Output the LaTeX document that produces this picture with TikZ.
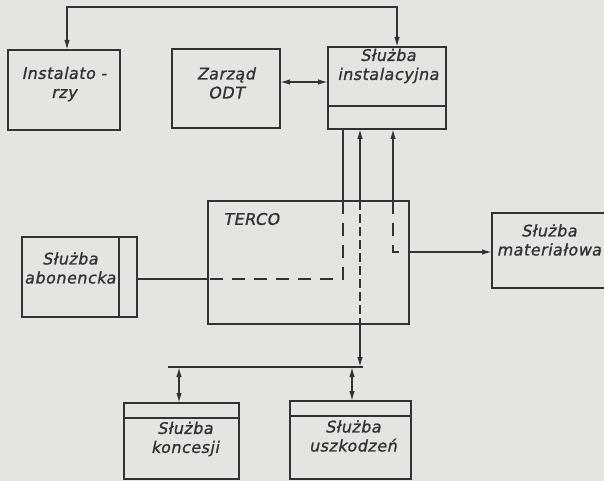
\documentclass[tikz,border=0pt]{standalone}
\usepackage{fontspec}
\setmainfont{DejaVu Sans}
\newfontfamily\lettering{DejaVu Sans}[FakeBold=1.2,FakeSlant=0.2,LetterSpace=3]
\usetikzlibrary{arrows.meta}
\definecolor{paper}{HTML}{E4E4E0}
\definecolor{ink}{HTML}{333333}
\begin{document}
\begin{tikzpicture}[x=1pt,y=-1pt,
  box/.style={draw=ink, line width=2.4pt, inner sep=0pt, outer sep=0pt},
  inner/.style={draw=ink, line width=2pt},
  lbl/.style={font=\lettering\fontsize{16}{19}\selectfont, text=ink, align=center, inner sep=0pt},
  con/.style={draw=ink, line width=1.5pt},
  dsh/.style={con, dash pattern=on 13pt off 9pt},
  dshc/.style={con, dash pattern=on 9pt off 4pt},
  >={Latex[length=10pt,width=5.5pt]}]
\fill[paper] (0,0) rectangle (604,481);
\useasboundingbox (0,0) rectangle (604,481);

% boxes
\node[box, minimum width=112pt, minimum height=80pt] (inst) at (64,90) {};
\node[box, minimum width=108pt, minimum height=79pt] (zarz) at (226,88.5) {};
\node[box, minimum width=118pt, minimum height=82pt] (slinst) at (387,88) {};
\node[box, minimum width=201pt, minimum height=123pt] (terco) at (308.5,262.5) {};
\node[box, minimum width=115pt, minimum height=80pt] (abon) at (79.5,277) {};
\node[box, minimum width=123pt, minimum height=75pt] (mat) at (553.5,250.5) {};
\node[box, minimum width=115pt, minimum height=76pt] (konc) at (181.5,441) {};
\node[box, minimum width=121pt, minimum height=78pt] (uszk) at (350.5,440) {};

% inner dividers
\draw[inner] (slinst.north west) ++(0,59) -- ++(118,0);
\draw[inner] (abon.north east) ++(-18,0) -- ++(0,80);
\draw[inner] (konc.north west) ++(0,15) -- ++(115,0);
\draw[inner] (uszk.north west) ++(0,15) -- ++(121,0);

% labels
\node[lbl] (inst-t) at (64,84) {Instalato -\\rzy};
\node[lbl] (zarz-t) at (226,83) {Zarząd\\ODT};
\node[lbl] (slinst-t) at (388,66) {Służba\\instalacyjna};
\node[lbl, anchor=west] (terco-t) at (223,219) {TERCO};
\node[lbl] (abon-t) at (70,268) {Służba\\abonencka};
\node[lbl] (mat-t) at (549,240) {Służba\\materiałowa};
\node[lbl] (konc-t) at (185,439) {Służba\\koncesji};
\node[lbl] (uszk-t) at (353,436) {Służba\\uszkodzeń};

% coordinates
\coordinate (t1) at (67,7);
\coordinate (t2) at (397,7);
\coordinate (ca) at (343,279);
\coordinate (cx) at (360,367);
\coordinate (cm) at (393,252);
\coordinate (bl) at (168,367);
\coordinate (br) at (363,367);
\coordinate (k) at (179,367);
\coordinate (u) at (352,367);
\coordinate (za) at (0,82);

% top connection
\draw[con, <->] (inst.north -| t1) -- (t1) -- (t2) -- (slinst.north -| t2);
% Zarzad <-> Sluzba instalacyjna
\draw[con, <->] (zarz.east |- za) -- (slinst.west |- za);

% path to abonencka
\draw[con] (slinst.south -| ca) -- (terco.north -| ca);
\draw[dsh] (terco.north -| ca) -- (ca) -- (terco.west |- ca);
\draw[con] (terco.west |- ca) -- (abon.east |- ca);

% path through TERCO to bus
\draw[con, <-] (slinst.south -| cx) -- (terco.north -| cx);
\draw[dshc] (terco.north -| cx) -- (terco.south -| cx);
\draw[con, ->] (terco.south -| cx) -- (cx);

% path to materialowa
\draw[con, <-] (slinst.south -| cm) -- (terco.north -| cm);
\draw[dsh] (terco.north -| cm) -- (cm) -- (terco.east |- cm);
\draw[con, ->] (terco.east |- cm) -- (mat.west |- cm);

% bus
\draw[con] (bl) -- (br);
\draw[con, <->] (k) -- (konc.north -| k);
\draw[con, <->] (u) -- (uszk.north -| u);
\end{tikzpicture}
\end{document}
